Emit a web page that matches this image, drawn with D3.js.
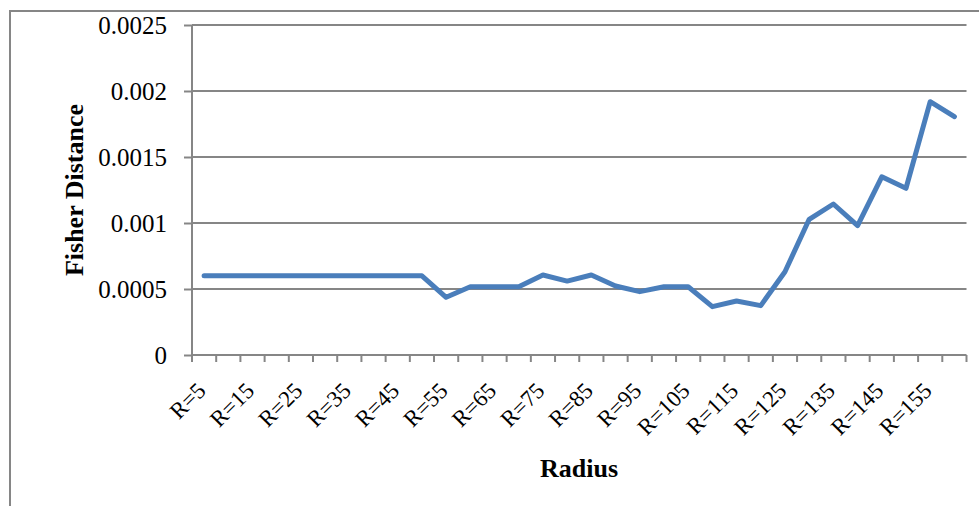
<!DOCTYPE html>
<html><head><meta charset="utf-8">
<script src="https://cdn.jsdelivr.net/npm/d3@7"></script>
<style>
body{margin:0;background:#fff;}
svg{display:block;}
</style></head>
<body>
<svg id="c" width="979" height="506"></svg>
<script>
const categories = ["R=5","R=10","R=15","R=20","R=25","R=30","R=35","R=40","R=45","R=50","R=55","R=60","R=65","R=70","R=75","R=80","R=85","R=90","R=95","R=100","R=105","R=110","R=115","R=120","R=125","R=130","R=135","R=140","R=145","R=150","R=155","R=160"];
const fisherDistance = [0.0006,0.0006,0.0006,0.0006,0.0006,0.0006,0.0006,0.0006,0.0006,0.0006,0.000437,0.000517,0.000517,0.000517,0.000606,0.00056,0.000606,0.000523,0.00048,0.000517,0.000517,0.000366,0.000409,0.000374,0.000631,0.001028,0.001144,0.00098,0.00135,0.001263,0.001919,0.001805];
const yTicks = [0,0.0005,0.001,0.0015,0.002,0.0025];
const yTickLabels = ["0","0.0005","0.001","0.0015","0.002","0.0025"];

(function(){
const svg = d3.select("#c");
const grey = "#868686";
const pLeft = 192, pRight = 966.5, pTop = 25, pBottom = 355;
const serif = "'Liberation Serif','Times New Roman',serif";

svg.append("rect").attr("x",10).attr("y",11).attr("width",1000).attr("height",520)
  .attr("fill","none").attr("stroke",grey).attr("stroke-width",2);

const x = d3.scaleBand().domain(categories).range([pLeft,pRight]).padding(0);
const y = d3.scaleLinear().domain([0,0.0025]).range([pBottom,pTop]);

// gridlines
svg.append("g").selectAll("line").data(yTicks.slice(1)).join("line")
  .attr("x1",pLeft).attr("x2",pRight).attr("y1",d=>y(d)).attr("y2",d=>y(d))
  .attr("stroke",grey).attr("stroke-width",2);

// y axis
const yAxis = svg.append("g").attr("transform",`translate(${pLeft},0)`)
  .call(d3.axisLeft(y).tickValues(yTicks).tickSize(8).tickPadding(17)
    .tickFormat((d,i)=>yTickLabels[i]));
yAxis.select(".domain").attr("stroke",grey).attr("stroke-width",2).attr("d",`M0,${pTop}V${pBottom}`);
yAxis.selectAll(".tick line").attr("stroke",grey).attr("stroke-width",2);
yAxis.selectAll(".tick text").attr("font-family",serif)
  .attr("font-size",25).attr("fill","#000");

// x axis
const boundaries = categories.map(c=>x(c)).concat([pRight]);
const xg = svg.append("g");
xg.append("line").attr("x1",pLeft).attr("x2",pRight).attr("y1",pBottom).attr("y2",pBottom)
  .attr("stroke",grey).attr("stroke-width",2);
xg.selectAll("line.t").data(boundaries).join("line").attr("class","t")
  .attr("x1",d=>d).attr("x2",d=>d).attr("y1",pBottom).attr("y2",pBottom+7)
  .attr("stroke",grey).attr("stroke-width",2);
xg.selectAll("text").data(categories.filter((c,i)=>i%2===0)).join("text")
  .attr("transform",d=>`translate(${x(d)+x.bandwidth()/2+3},${pBottom+37}) rotate(-45)`)
  .attr("text-anchor","end")
  .attr("font-family",serif).attr("font-size",23)
  .text(d=>d);

// line
const line = d3.line().x((d,i)=>x(categories[i])+x.bandwidth()/2).y(d=>y(d));
svg.append("path").datum(fisherDistance).attr("d",line)
  .attr("fill","none").attr("stroke","#4a7ebb").attr("stroke-width",5)
  .attr("stroke-linejoin","round").attr("stroke-linecap","round");

// titles
svg.append("text").attr("x",579).attr("y",477).attr("text-anchor","middle")
  .attr("font-family",serif).attr("font-size",26)
  .attr("font-weight","bold").text("Radius");
svg.append("text").attr("transform","translate(83,190) rotate(-90)").attr("text-anchor","middle")
  .attr("font-family",serif).attr("font-size",26)
  .attr("font-weight","bold").text("Fisher Distance");
})();
</script>
</body></html>
